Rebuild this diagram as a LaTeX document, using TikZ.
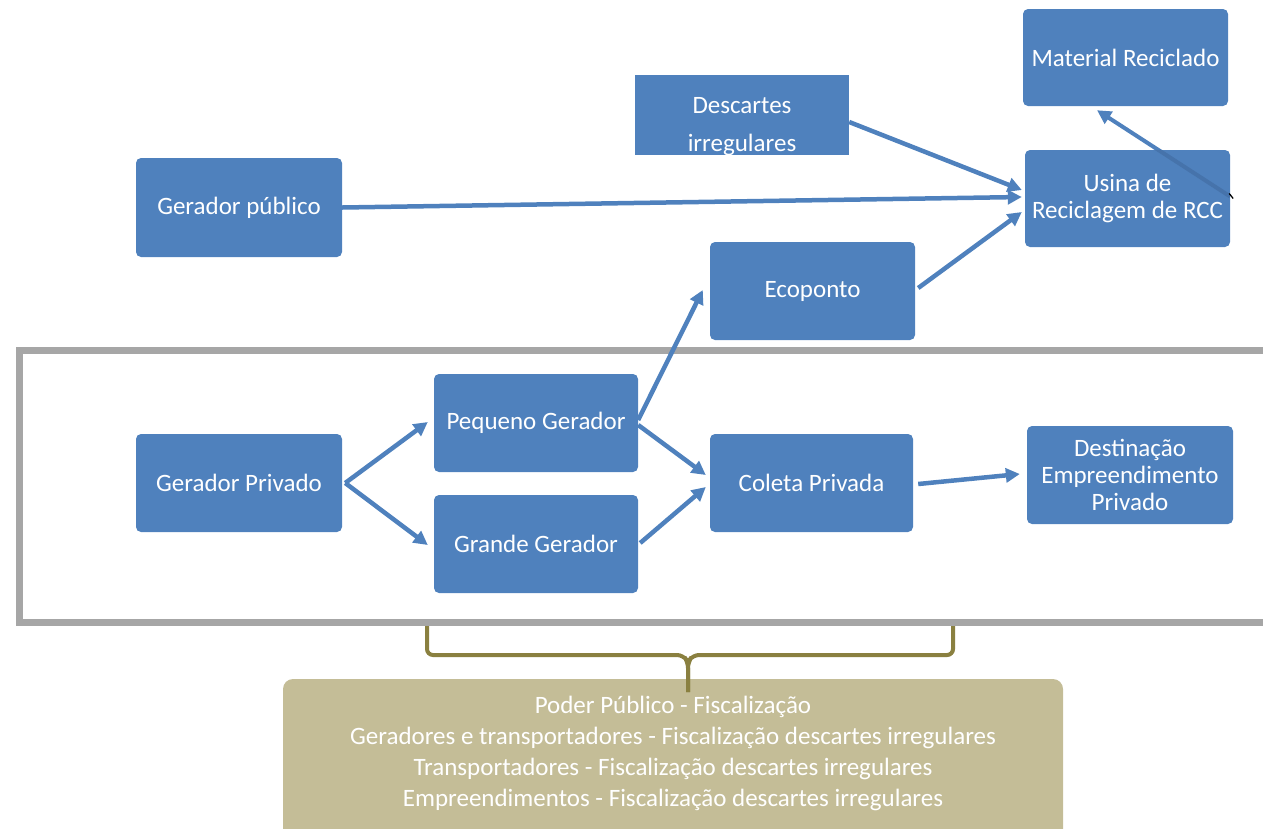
\documentclass[tikz,border=0pt]{standalone}
\usepackage{fontspec}
\setmainfont{Carlito}
\usetikzlibrary{arrows.meta,calc}
\definecolor{boxblue}{HTML}{4F81BD}
\definecolor{deepblue}{HTML}{4673AB}
\definecolor{framegray}{HTML}{A6A6A6}
\definecolor{tanfill}{HTML}{C4BD97}
\definecolor{bracecol}{RGB}{138,128,64}
\tikzset{
  blk/.style={fill=boxblue, draw=none, rounded corners=5pt, text=white,
    align=center, inner sep=0pt, font=\fontsize{25}{27}\selectfont},
  flow/.style={draw=boxblue, line width=4.5pt,
    -{Triangle[length=14pt,width=14pt]}},
  lbl/.style={text=white, inner sep=0pt, font=\fontsize{25}{27}\selectfont},
}
\begin{document}
\begin{tikzpicture}[x=1pt,y=-1pt]
\useasboundingbox (0,0) rectangle (1263,828);
\clip (0,0) rectangle (1263,828);

% private-sector frame (open beyond the right edge)
\draw[framegray, line width=7pt] (1300,350) -- (19,350) -- (19,622) -- (1300,622);

% process boxes
\node[blk, minimum width=205pt, minimum height=97pt] (mat) at (1125.5,57.5) {Material Reciclado};
\node[blk, rounded corners=0pt, minimum width=214pt, minimum height=80pt] (desc) at (742,115) {};
\begin{scope}
  \clip (desc.south west) rectangle (desc.north east);
  \node[lbl, anchor=base] (descA) at (742,113) {Descartes};
  \node[lbl, anchor=base] (descB) at (742,151) {irregulares};
\end{scope}
\node[blk, minimum width=206pt, minimum height=99pt] (pub) at (239,207.5) {Gerador público};
\node[blk, minimum width=205pt, minimum height=97pt] (usina) at (1127.5,198.5) {Usina de\\Reciclagem de RCC};
\node[blk, minimum width=205pt, minimum height=98pt] (eco) at (812.5,291) {Ecoponto};
\node[blk, minimum width=204pt, minimum height=98pt] (peq) at (536,423) {Pequeno Gerador};
\node[blk, minimum width=204pt, minimum height=98pt] (gra) at (536,544) {Grande Gerador};
\node[blk, minimum width=206pt, minimum height=98pt] (gpriv) at (239,483) {Gerador Privado};
\node[blk, minimum width=203pt, minimum height=98pt] (coleta) at (811.5,483) {Coleta Privada};
\node[blk, minimum width=206pt, minimum height=98pt] (dest) at (1130,475) {Destinação\\Empreendimento\\Privado};

% flows
\draw[flow] (pub.east) -- ($(usina.west)+(-3,-1.5)$);
\draw[flow] ($(desc.east)+(0,7)$) -- ($(usina.west)+(-3,-8.5)$);
\draw[flow] ($(eco.east)+(3,-3)$) -- ($(usina.west)+(-3,13.5)$);
\coordinate (uout) at ($(usina.east)+(0,-2)$);
\coordinate (min) at ($(mat.south)+(-28.5,4)$);
\draw[flow, line width=4pt] (uout) -- (min);
\begin{scope}
  \clip[rounded corners=5pt] (usina.south west) rectangle (usina.north east);
  \draw[deepblue, line width=4pt] (uout) -- (min);
\end{scope}
\draw[black, line width=1.2pt] ($(uout)+(-1,-3)$) -- ($(uout)+(3,2)$);
\draw[flow] ($(gpriv.east)+(3,0)$) -- ($(peq.west)+(-6,-1)$);
\draw[flow] ($(gpriv.east)+(3,0)$) -- ($(gra.west)+(-6,1)$);
\draw[flow] ($(peq.east)+(0,-3)$) -- ($(eco.west)+(-7,-1)$);
\draw[flow] ($(peq.east)+(0,2)$) -- ($(coleta.west)+(-4,-8)$);
\draw[flow] ($(gra.east)+(2,-1)$) -- ($(coleta.west)+(-4,4)$);
\draw[flow] ($(coleta.east)+(5,1)$) -- ($(dest.west)+(-7,-1)$);

% oversight box
\fill[tanfill, rounded corners=10pt] (283,679) rectangle (1063,860);
\node[text=white, align=center, inner sep=0pt, font=\fontsize{25}{31}\selectfont] (fisc) at (673,753)
  {Poder Público - Fiscalização\\
   Geradores e transportadores - Fiscalização descartes irregulares\\
   Transportadores - Fiscalização descartes irregulares\\
   Empreendimentos - Fiscalização descartes irregulares};

% brace
\coordinate (bl) at (427,626);
\coordinate (br) at (953,626);
\coordinate (btip) at (688,692);
\draw[bracecol, line width=4pt, rounded corners=6pt]
  (bl) -- (427,655) -- (683,655) -- (688,662) -- (btip);
\draw[bracecol, line width=4pt, rounded corners=6pt]
  (br) -- (953,655) -- (693,655) -- (688,662) -- (btip);
\end{tikzpicture}
\end{document}
